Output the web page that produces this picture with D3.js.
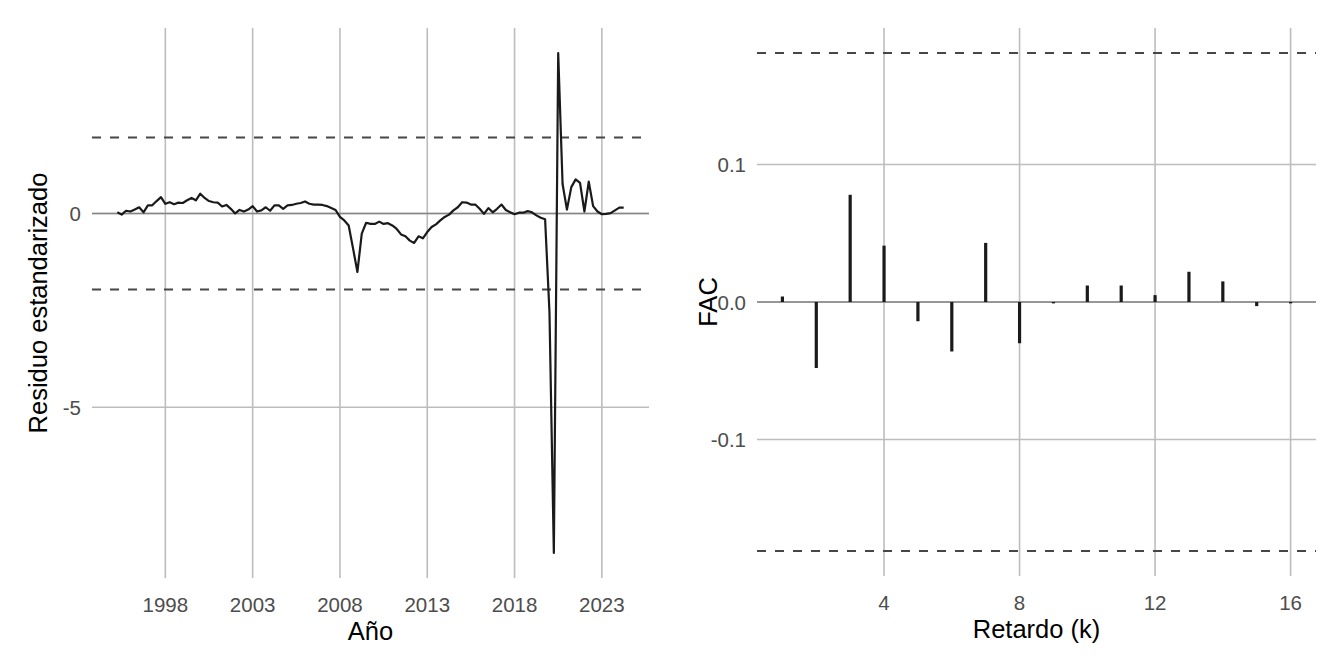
<!DOCTYPE html>
<html>
<head>
<meta charset="utf-8">
<script src="https://cdn.jsdelivr.net/npm/d3@7"></script>
<style>
  body { margin: 0; background: #fff; }
  text { font-family: "Liberation Sans", Arial, sans-serif; }
</style>
</head>
<body>
<script>
// residuos estandarizados trimestrales, desde 1995 T2
var startYear = 1995.25;
var residuos = [
  0.03, -0.03, 0.07,
  0.05, 0.10, 0.16, 0.03,
  0.21, 0.21, 0.32, 0.42,
  0.25, 0.29, 0.24, 0.28,
  0.27, 0.34, 0.40, 0.34,
  0.51, 0.40, 0.32, 0.29,
  0.28, 0.18, 0.22, 0.12,
  0.00, 0.09, 0.05, 0.10,
  0.19, 0.05, 0.08, 0.16,
  0.07, 0.21, 0.21, 0.12,
  0.21, 0.22, 0.25, 0.27,
  0.31, 0.25, 0.23, 0.23,
  0.22, 0.19, 0.14, 0.09,
  -0.09, -0.18, -0.31, -0.90,
  -1.51, -0.52, -0.24, -0.27,
  -0.27, -0.21, -0.27, -0.25,
  -0.31, -0.40, -0.54, -0.59,
  -0.70, -0.76, -0.59, -0.64,
  -0.48, -0.35, -0.28, -0.18,
  -0.09, -0.03, 0.08, 0.16,
  0.29, 0.28, 0.23, 0.23,
  0.12, -0.01, 0.14, 0.03,
  0.12, 0.23, 0.09, 0.03,
  -0.02, 0.02, 0.02, 0.06,
  0.03, -0.05, -0.11, -0.15,
  -2.55, -8.76, 4.14, 0.76,
  0.10, 0.68, 0.88, 0.79,
  0.05, 0.82, 0.19, 0.05,
  -0.02, -0.01, 0.01, 0.08,
  0.15, 0.15
];
var banda = 1.96;                          // +-1.96 residuo
var yearTicks = [1998, 2003, 2008, 2013, 2018, 2023];
var resTicks = [-5, 0];

// funcion de autocorrelacion de los residuos
var lags = [1, 2, 3, 4, 5, 6, 7, 8, 9, 10, 11, 12, 13, 14, 15, 16];
var fac = [0.004, -0.048, 0.078, 0.041, -0.014, -0.036, 0.043, -0.030,
           -0.001, 0.012, 0.012, 0.005, 0.022, 0.015, -0.003, -0.001];
var lagTicks = [4, 8, 12, 16];
var facTicks = [-0.1, 0.0, 0.1];
var ci = 1.96 / Math.sqrt(residuos.length);

var W = 1344, H = 672;
var tickCol = "#4d4d4d", gridCol = "#bdbdbd", zeroCol = "#858585", inkCol = "#1a1a1a";
var dashCol = "#474747", dashPat = "9,9";

var svg = d3.select("body").append("svg")
  .attr("width", W).attr("height", H);
svg.append("rect").attr("width", W).attr("height", H).attr("fill", "#fff");

function expand(ext, m) {
  var d = (ext[1] - ext[0]) * (m || 0.05);
  return [ext[0] - d, ext[1] + d];
}

function fmt(v, dec) {
  return dec ? v.toFixed(dec) : String(v);
}

// dibuja rejilla, ejes y titulos de un panel
function panel(x, y, xt, yt, ydec, xlab, ylab, ylabX) {
  var g = svg.append("g");
  var x0 = x.range()[0], x1 = x.range()[1];
  var y0 = y.range()[0], y1 = y.range()[1];

  g.selectAll(".gx").data(xt).enter().append("line")
    .attr("x1", d => x(d)).attr("x2", d => x(d))
    .attr("y1", y0).attr("y2", y1)
    .attr("stroke", gridCol).attr("stroke-width", 1.6);
  g.selectAll(".gy").data(yt).enter().append("line")
    .attr("x1", x0).attr("x2", x1)
    .attr("y1", d => y(d)).attr("y2", d => y(d))
    .attr("stroke", gridCol).attr("stroke-width", 1.6);

  g.selectAll(".tx").data(xt).enter().append("text")
    .attr("x", d => x(d)).attr("y", y0 + 34)
    .attr("text-anchor", "middle")
    .attr("font-size", 20.5).attr("fill", tickCol)
    .text(d => fmt(d, 0));
  g.selectAll(".ty").data(yt).enter().append("text")
    .attr("x", x0 - 11).attr("y", d => y(d) + 7.5)
    .attr("text-anchor", "end")
    .attr("font-size", 20.5).attr("fill", tickCol)
    .text(d => fmt(d, ydec));

  g.append("text")
    .attr("x", (x0 + x1) / 2).attr("y", y0 + 62)
    .attr("text-anchor", "middle")
    .attr("font-size", 25.5).attr("fill", "#000")
    .text(xlab);
  g.append("text")
    .attr("transform", "translate(" + ylabX + "," + ((y0 + y1) / 2) + ") rotate(-90)")
    .attr("text-anchor", "middle")
    .attr("font-size", 25.5).attr("fill", "#000")
    .text(ylab);
  return g;
}

function hline(g, x, yy, col, dash) {
  g.append("line")
    .attr("x1", x.range()[0]).attr("x2", x.range()[1])
    .attr("y1", yy).attr("y2", yy)
    .attr("stroke", col).attr("stroke-width", dash ? 2 : 1.6)
    .attr("stroke-dasharray", dash || null);
}

// ---- panel izquierdo: residuos ----
var serie = residuos.map(function(v, i) { return { t: startYear + i / 4, v: v }; });

var xL = d3.scaleLinear()
  .domain(expand(d3.extent(serie, d => d.t)))
  .range([92, 649]);
var yL = d3.scaleLinear()
  .domain(expand(d3.extent(residuos.concat([banda, -banda]))))
  .range([578, 28]);

var gL = panel(xL, yL, yearTicks, resTicks, 0, "Año", "Residuo estandarizado", 47);

hline(gL, xL, yL(0), zeroCol);
hline(gL, xL, yL(banda), dashCol, dashPat);
hline(gL, xL, yL(-banda), dashCol, dashPat);

gL.append("path")
  .datum(serie)
  .attr("fill", "none")
  .attr("stroke", inkCol)
  .attr("stroke-width", 2.2)
  .attr("stroke-linejoin", "round")
  .attr("d", d3.line().x(d => xL(d.t)).y(d => yL(d.v)));

// ---- panel derecho: FAC ----
var xR = d3.scaleLinear()
  .domain(expand(d3.extent(lags)))
  .range([757, 1316]);
var yR = d3.scaleLinear()
  .domain(expand(d3.extent(fac.concat([ci, -ci]))))
  .range([576, 28]);

var gR = panel(xR, yR, lagTicks, facTicks, 1, "Retardo (k)", "FAC", 717);

hline(gR, xR, yR(0), zeroCol);
hline(gR, xR, yR(ci), dashCol, dashPat);
hline(gR, xR, yR(-ci), dashCol, dashPat);

gR.selectAll(".bar").data(lags).enter().append("line")
  .attr("x1", d => xR(d)).attr("x2", d => xR(d))
  .attr("y1", yR(0)).attr("y2", (d, i) => yR(fac[i]))
  .attr("stroke", inkCol).attr("stroke-width", 3.2);
</script>
</body>
</html>
